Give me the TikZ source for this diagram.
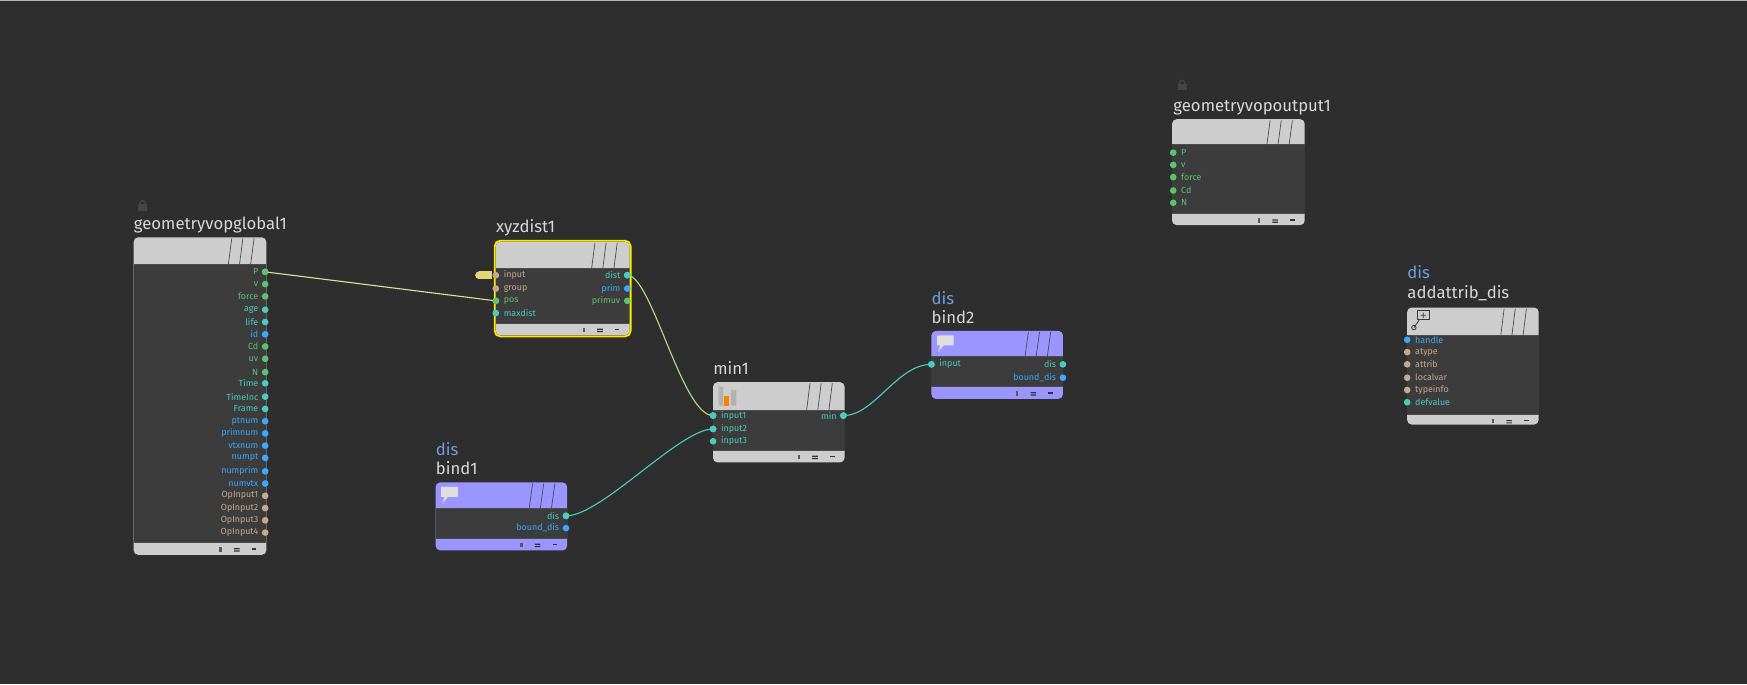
\documentclass[tikz,border=0pt]{standalone}
\usepackage{fontspec}
\setmainfont{Fira Sans}
\begin{document}
\definecolor{bg}{HTML}{2E2E2E}
\definecolor{body}{HTML}{3C3C3C}
\definecolor{hdr}{HTML}{CDCDCD}
\definecolor{purp}{HTML}{9B96FF}
\definecolor{pg}{HTML}{5CC46E}
\definecolor{pc}{HTML}{4ACDBF}
\definecolor{pb}{HTML}{3DA8FF}
\definecolor{pt}{HTML}{C8A98C}
\definecolor{ttl}{HTML}{D8D8D8}
\definecolor{grp}{HTML}{6F9FE0}
\definecolor{wy}{HTML}{D6E59A}
\definecolor{wg}{HTML}{B0DE84}
\begin{tikzpicture}[x=1pt,y=-1pt,
  port/.style={circle,fill=#1,inner sep=0pt,minimum size=6pt},
  lblL/.style={anchor=east,font=\fontsize{8}{9}\selectfont,text=#1,inner sep=0pt},
  lblR/.style={anchor=west,font=\fontsize{8}{9}\selectfont,text=#1,inner sep=0pt},
  title/.style={anchor=base west,font=\fontsize{15}{16}\selectfont,text=ttl,inner sep=0pt},
  grpname/.style={anchor=base west,font=\fontsize{15}{16}\selectfont,text=grp,inner sep=0pt},
  wire/.style={line width=1pt}]
\fill[bg] (0,0) rectangle (1568,614);
\useasboundingbox (0,0) rectangle (1568,614);
\draw[gray!60,line width=0.6pt] (0,0.3) -- (1568,0.3);
% box macro: x1,y1,x2,y2,yh,yf,headcolor
\newcommand\vopbox[7]{%
  \fill[#7,rounded corners=4pt] (#1,#2) rectangle (#3,#4);
  \fill[body] (#1,#5) rectangle (#3,#6);
  \draw[black!70,line width=0.8pt] (#1,#5) -- (#3,#5) (#1,#6) -- (#3,#6);
  \draw[gray!55!black,line width=0.6pt] (#3-34,#5) -- (#3-31,#2+1) (#3-24,#5) -- (#3-21,#2+1) (#3-14,#5) -- (#3-11,#2+1);
  \fill[gray!70!black] (#3-42,#6+4) rectangle (#3-40,#6+8);
  \fill[black!80] (#3-29,#6+5) rectangle (#3-24,#6+6) (#3-29,#6+7) rectangle (#3-24,#6+8);
  \fill[black!80] (#3-13,#6+5) rectangle (#3-9,#6+6.2);
}
\newcommand\vlock[2]{\fill[gray!55!black] (#1-4,#2-1) rectangle (#1+4,#2+5);
  \draw[gray!55!black,line width=1.2pt] (#1-2.5,#2-1) arc (180:360:2.5 and 3);}

% geometryvopglobal1
\vopbox{120}{213}{239}{498}{237}{487}{hdr}
\vlock{128}{184}
\node[title] (t1) at (120,206) {geometryvopglobal1};
\foreach \n/\y/\c in {P/244/pg,v/255/pg,force/266/pg,age/278/pc,life/289/pc,id/300/pb,Cd/311/pg,uv/322/pg,N/334/pg,Time/344/pc,TimeInc/356/pc,Frame/367/pc,ptnum/378/pb,primnum/389/pb,vtxnum/400/pb,numpt/411/pb,numprim/423/pb,numvtx/434/pb,OpInput1/445/pt,OpInput2/456/pt,OpInput3/467/pt,OpInput4/478/pt}{
  \node[port=\c] (g-\n) at (238,\y) {};
  \node[lblL=\c] at (232,\y) {\n};
}

% xyzdist1
\fill[pt!60!yellow!80!white] (430,243.5) rectangle (442,250.5);
\fill[pt!60!yellow!80!white] (430,247) circle (3.5pt);
\vopbox{445}{217}{565}{301}{241}{290}{hdr}
\draw[yellow!90!orange,line width=1.6pt,rounded corners=5pt] (444,216) rectangle (566,302);
\node[title] (t2) at (445,209) {xyzdist1};
\foreach \n/\y/\c in {input/247/pt,group/259/pt,pos/270/pg,maxdist/281/pc}{
  \node[port=\c] (x-\n) at (445,\y) {};
  \node[lblR=\c] at (452,\y) {\n};
}
\foreach \n/\y/\c in {dist/247/pc,prim/259/pb,primuv/270/pg}{
  \node[port=\c] (x-\n) at (563,\y) {};
  \node[lblL=\c] at (557,\y) {\n};
}

% min1
\vopbox{640}{343}{758}{415}{368}{404}{hdr}
\node[title] (t3) at (640,336) {min1};
\fill[gray!60] (645,347) rectangle (649,364) (656,350) rectangle (661,364);
\fill[orange] (650,355) rectangle (654,364);
\foreach \n/\y in {input1/373,input2/385,input3/396}{
  \node[port=pc] (m-\n) at (640,\y) {};
  \node[lblR=pc] at (647,\y) {\n};
}
\node[port=pc] (m-min) at (757,373) {};
\node[lblL=pc] at (751,373) {min};

% bind1
\vopbox{391}{433}{509}{494}{456}{483}{purp}
\node[grpname] at (391,409) {dis};
\node[title] (t4) at (391,426) {bind1};
\fill[gray!25] (396,437) -- (411,437) -- (411,446) -- (402,446) -- (397,452) -- (399,446) -- (396,446) -- cycle;
\node[port=pc] (b1-dis) at (508,463) {};
\node[lblL=pc] at (502,463) {dis};
\node[port=pb] (b1-bd) at (508,474) {};
\node[lblL=pb] at (502,474) {bound\_dis};

% bind2
\vopbox{836}{297}{954}{358}{320}{347}{purp}
\node[grpname] at (836,273) {dis};
\node[title] (t5) at (836,290) {bind2};
\fill[gray!25] (841,301) -- (856,301) -- (856,310) -- (847,310) -- (842,316) -- (844,310) -- (841,310) -- cycle;
\node[port=pc] (b2-in) at (836,327) {};
\node[lblR=pc] at (843,327) {input};
\node[port=pc] (b2-dis) at (954,327) {};
\node[lblL=pc] at (948,327) {dis};
\node[port=pb] (b2-bd) at (954,339) {};
\node[lblL=pb] at (948,339) {bound\_dis};

% geometryvopoutput1
\vopbox{1052}{107}{1171}{202}{130}{192}{hdr}
\vlock{1061}{76}
\node[title] (t6) at (1053,100) {geometryvopoutput1};
\foreach \n/\y in {P/137,v/148,force/159,Cd/171,N/182}{
  \node[port=pg] (o-\n) at (1053,\y) {};
  \node[lblR=pg] at (1060,\y) {\n};
}

% addattrib_dis
\vopbox{1263}{276}{1381}{381}{301}{372}{hdr}
\node[grpname] at (1263,250) {dis};
\node[title] (t7) at (1263,268) {addattrib\_dis};
\draw[gray!45!black,line width=0.7pt] (1272,279) rectangle (1283,287);
\draw[gray!45!black,line width=0.7pt] (1277.5,280.5) -- (1277.5,285.5) (1275,283) -- (1280,283) (1274,287) -- (1269,294);
\draw[gray!45!black,line width=0.7pt] (1269,294) circle (2pt);
\foreach \n/\y/\c in {handle/305/pb,atype/316/pt,attrib/327/pt,localvar/339/pt,typeinfo/350/pt,defvalue/361/pc}{
  \node[port=\c] (a-\n) at (1263,\y) {};
  \node[lblR=\c] at (1270,\y) {\n};
}

% wires
\draw[wire,wy] (g-P.center) -- (x-pos.center);
\draw[wire,wg] (x-dist.center) .. controls (585,247) and (612,373) .. (m-input1.center);
\draw[wire,pc] (b1-dis.center) .. controls (540,463) and (610,385) .. (m-input2.center);
\draw[wire,pc] (m-min.center) .. controls (785,373) and (805,327) .. (b2-in.center);
\foreach \p/\c in {g-P/pg,x-pos/pg,x-dist/pc,m-input1/pc,m-input2/pc,b1-dis/pc,m-min/pc,b2-in/pc}{\fill[\c] (\p.center) circle (3pt);}
\end{tikzpicture}
\end{document}
